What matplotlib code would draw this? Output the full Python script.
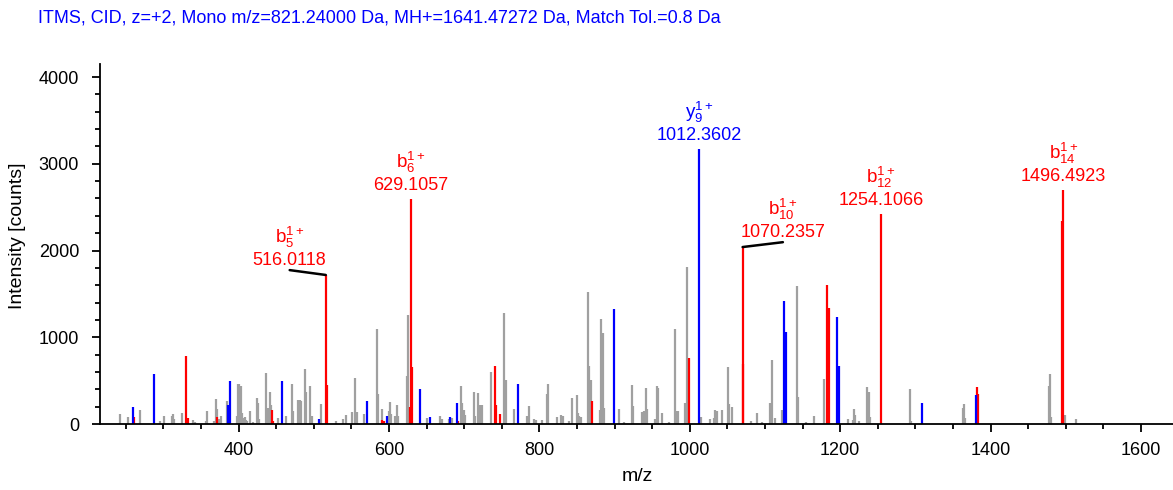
import matplotlib.pyplot as plt
from matplotlib.ticker import MultipleLocator

plt.rcParams['font.family'] = ['Liberation Sans', 'DejaVu Sans']
plt.rcParams['mathtext.fontset'] = 'custom'
plt.rcParams['mathtext.rm'] = 'Liberation Sans'
plt.rcParams['mathtext.it'] = 'Liberation Sans'

title = 'ITMS, CID, z=+2, Mono m/z=821.24000 Da, MH+=1641.47272 Da, Match Tol.=0.8 Da'

# unassigned peaks (grey)
gray_mz = [242.0, 252.7, 268.6, 295.2, 300.5, 311.2, 312.9, 314.2, 324.5, 339.5,
           341.8, 356.4, 358.1, 367.8, 370.1, 371.8, 374.5, 376.3, 384.7, 397.6,
           399.3, 401.1, 402.9, 404.7, 406.4, 408.2, 409.9, 411.7, 415.7, 419.7,
           424.2, 425.9, 427.7, 437.0, 438.8, 441.5, 442.8, 452.5, 463.2, 470.7,
           472.1, 479.5, 481.4, 483.1, 488.0, 489.4, 495.5, 497.3, 509.3,
           529.7, 539.4, 543.0, 550.5, 554.9, 557.2, 566.5, 583.8, 585.5, 590.4,
           599.7, 601.5, 603.2, 608.1, 610.8, 612.5, 624.5, 625.8, 650.7, 668.4,
           670.2, 680.3, 683.5, 695.9, 697.6, 699.5, 701.6, 713.2, 714.5, 718.1,
           721.1, 723.4, 736.2, 753.1, 755.3, 766.0, 783.2, 786.7, 793.0, 795.6,
           803.6, 809.8, 811.6, 824.0, 828.5, 831.1, 839.1, 843.5, 850.1,
           851.1, 852.8, 855.5, 864.4, 866.1, 868.4, 880.7, 882.5, 884.3, 885.6,
           906.4, 913.0, 922.9, 924.6, 936.6, 939.2, 941.9, 943.6, 954.3, 956.5,
           958.2, 962.8, 972.9, 980.5, 982.7, 984.4, 994.1, 996.0, 1015.0, 1026.6,
           1032.3, 1034.0, 1036.3, 1043.3, 1050.9, 1052.7, 1056.3, 1081.5, 1089.1,
           1096.5, 1106.8, 1109.0, 1113.4, 1122.7, 1142.3, 1144.0, 1154.7, 1165.3,
           1179.0, 1210.5, 1217.2, 1218.9, 1220.3, 1225.1, 1235.8, 1238.0, 1239.7,
           1293.0, 1294.7, 1363.0, 1364.8, 1366.5, 1477.4, 1479.1, 1480.9, 1499.1,
           1513.3]
gray_int = [115, 85, 165, 35, 96, 88, 115, 58, 127, 46,
            27, 38, 146, 30, 292, 177, 58, 96, 265, 88,
            465, 457, 434, 127, 69, 77, 42, 35, 154, 27,
            304, 242, 61, 588, 180, 373, 223, 69, 92, 457,
            154, 277, 273, 265, 634, 373, 434, 88, 227,
            31, 58, 108, 134, 530, 134, 115, 1091, 350, 173,
            154, 257, 111, 88, 223, 88, 557, 1253, 69, 96,
            61, 58, 69, 434, 246, 165, 108, 365, 88, 357,
            223, 219, 603, 1280, 511, 177, 88, 204, 58, 50,
            50, 342, 465, 77, 108, 88, 38, 300, 338,
            127, 96, 81, 1522, 665, 503, 165, 1211, 1049, 188,
            173, 23, 450, 211, 134, 146, 419, 173, 58, 434,
            415, 127, 23, 1091, 146, 154, 242, 1810, 81, 58,
            69, 165, 154, 165, 657, 234, 192, 38, 131,
            23, 242, 742, 69, 165, 1595, 311, 27, 96,
            523, 61, 50, 173, 104, 38, 423, 365, 85,
            407, 35, 184, 227, 65, 434, 573, 77, 108,
            58]

# b ions (red)
b_mz = [260.6, 330.6, 332.4, 371.0, 444.3, 445.6, 516.0118, 518.0, 591.2, 593.5,
        627.5, 629.1057, 630.3, 692.3, 741.0, 742.8, 748.0, 870.0, 999.0,
        1070.2357, 1071.3, 1183.0, 1185.3, 1254.1066, 1382.0, 1383.8, 1495.5,
        1496.4923]
b_int = [85, 780, 73, 77, 165, 38, 1718, 454, 50, 31,
         196, 2594, 657, 35, 665, 223, 115, 265, 761,
         2040, 696, 1599, 1334, 2421, 423, 346, 2340,
         2697]

# y ions (blue)
y_mz = [259.3, 287.2, 386.0, 388.3, 457.4, 506.6, 571.3, 597.9, 641.8, 655.0,
        681.8, 691.0, 771.2, 899.8, 1012.3602, 1125.4, 1127.6, 1195.9, 1198.0,
        1309.0, 1380.7]
y_int = [196, 576, 223, 496, 496, 58, 265, 88, 407, 85,
         77, 238, 457, 1330, 3170, 1414, 1057, 1230, 673,
         242, 334]

# annotated fragments
lab_ion = ['b', 'b', 'y', 'b', 'b', 'b']
lab_num = ['5', '6', '9', '10', '12', '14']
lab_mz = [516.0118, 629.1057, 1012.3602, 1070.2357, 1254.1066, 1496.4923]
# label shift (points) for labels pulled away from their peak
lab_shift = {'516.0118': (-26, 3.5), '1070.2357': (29, 3.5)}

RED = '#ff0000'
BLUE = '#0000ff'
GREY = '#a0a0a0'

fig = plt.figure(figsize=(11.73, 4.90), dpi=100)
ax = fig.add_axes([100 / 1173, 66 / 490, 1073 / 1173, 360 / 490])

ax.vlines(gray_mz, 0, gray_int, colors=GREY, lw=1.6)
ax.vlines(b_mz, 0, b_int, colors=RED, lw=1.6)
ax.vlines(y_mz, 0, y_int, colors=BLUE, lw=1.6)

for ion, num, mz in zip(lab_ion, lab_num, lab_mz):
    if ion == 'b':
        col = RED
        h = b_int[b_mz.index(mz)]
    else:
        col = BLUE
        h = y_int[y_mz.index(mz)]
    key = '%.4f' % mz
    dx, dy = lab_shift.get(key, (0, 0))
    if key in lab_shift:
        # leader line from peak top to the label
        ax.annotate('', xy=(mz, h), xytext=(dx, dy), textcoords='offset points',
                    arrowprops=dict(arrowstyle='-', color='black', lw=1.8,
                                    shrinkA=0, shrinkB=0))
        base = 4
    else:
        base = 6.8
    ax.annotate(key, xy=(mz, h), xytext=(dx, dy + base), textcoords='offset points',
                ha='center', va='baseline', color=col, fontsize=13)
    ax.annotate(r'$\mathregular{%s_{%s}^{1+}}$' % (ion, num), xy=(mz, h),
                xytext=(dx, dy + base + 15.5), textcoords='offset points',
                ha='center', va='baseline', color=col, fontsize=13.5)

ax.set_xlim(215.8, 1642.5)
ax.set_ylim(0, 4150)
ax.spines['top'].set_visible(False)
ax.spines['right'].set_visible(False)
for s in ['left', 'bottom']:
    ax.spines[s].set_linewidth(1.3)

ax.xaxis.set_major_locator(MultipleLocator(200))
ax.xaxis.set_minor_locator(MultipleLocator(50))
ax.yaxis.set_major_locator(MultipleLocator(1000))
ax.yaxis.set_minor_locator(MultipleLocator(200))
ax.tick_params(which='major', length=6, width=1.3, labelsize=13)
ax.tick_params(which='minor', length=3.5, width=1.3)
ax.tick_params(axis='x', which='major', pad=7)
ax.tick_params(axis='y', which='major', pad=9)

ax.set_xlabel('m/z', fontsize=14)
ax.set_ylabel('Intensity [counts]', fontsize=14)
ax.xaxis.label.set_va('center')
ax.yaxis.label.set_va('center')
ax.xaxis.set_label_coords((637 - 100) / 1073, -(476 - 424) / 360)
ax.yaxis.set_label_coords(-(100 - 18) / 1073, (424 - 236) / 360)

fig.text(38 / 1173, 1 - 18 / 490, title, color=BLUE, fontsize=13, va='center')

fig.savefig('out.png', dpi=100)
